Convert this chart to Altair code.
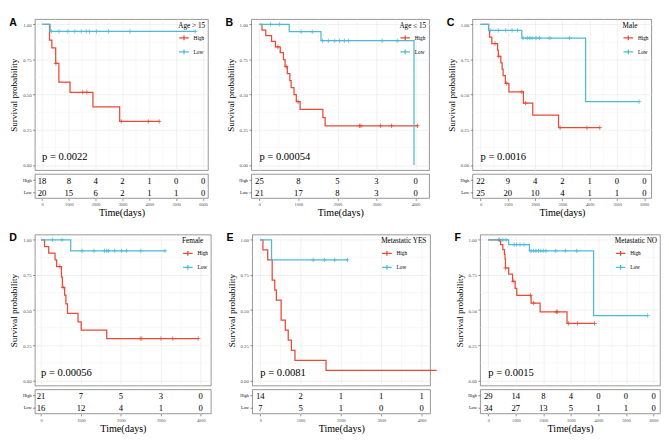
import altair as alt
import pandas as pd

SERIF = "Liberation Serif"
SANS = "Liberation Sans"
RED = "#E64B35"
BLUE = "#4DBBD5"
GROUPS = ["High", "Low"]

# ---------------- Panel A : Age > 15 ----------------
A_high_t = [0, 280, 368, 510, 629, 1044, 1898, 2894, 4365]
A_high_s = [1.0, 0.889, 0.833, 0.722, 0.590, 0.517, 0.413, 0.310, 0.310]
A_high_c = [520, 1518, 1673, 2954, 3962, 4365]
A_low_t = [0, 300, 5706]
A_low_s = [1.0, 0.95, 0.95]
A_low_c = [350, 629, 961, 1222, 1459, 1649, 1767, 2028, 2479, 3274, 5706]
A_risk_high = [18, 8, 4, 2, 1, 0, 0]
A_risk_low = [20, 15, 6, 2, 1, 1, 0]

# ---------------- Panel B : Age <= 15 ----------------
B_high_t = [0, 66, 164, 312, 411, 534, 616, 657, 715, 780, 813, 887, 945, 1043, 1626, 1684, 4049]
B_high_s = [1.0, 0.96, 0.92, 0.88, 0.84, 0.80, 0.75, 0.70, 0.65, 0.60, 0.55, 0.50, 0.45, 0.395, 0.337, 0.279, 0.279]
B_high_c = [472, 690, 990, 2563, 2600, 3105, 3384, 4049]
B_low_t = [0, 764, 1577, 3960]
B_low_s = [1.0, 0.948, 0.884, 0.0]
B_low_c = [287, 517, 1068, 1355, 1618, 1766, 1930, 2053, 2177, 2283, 3146, 3532]
B_risk_high = [25, 8, 5, 3, 0]
B_risk_low = [21, 17, 8, 3, 0]

# ---------------- Panel C : Male ----------------
C_high_t = [0, 295, 331, 413, 626, 650, 744, 791, 827, 909, 1039, 1571, 1913, 2858, 4370]
C_high_s = [1.0, 0.955, 0.909, 0.864, 0.818, 0.773, 0.727, 0.682, 0.636, 0.58, 0.52, 0.44, 0.355, 0.266, 0.266]
C_high_c = [530, 665, 960, 1512, 1650, 2917, 3897, 4370]
C_low_t = [0, 295, 1512, 3850, 5811]
C_low_s = [1.0, 0.957, 0.903, 0.451, 0.451]
C_low_c = [354, 650, 921, 1157, 1358, 1559, 1712, 1807, 1890, 2031, 2161, 2539, 3260, 5811]
C_risk_high = [22, 9, 4, 2, 1, 0, 0]
C_risk_low = [25, 20, 10, 4, 1, 1, 0]

# ---------------- Panel D : Female ----------------
D_high_t = [0, 88, 192, 351, 391, 511, 535, 591, 623, 663, 926, 1006, 1645, 3936]
D_high_s = [1.0, 0.952, 0.905, 0.857, 0.810, 0.735, 0.661, 0.606, 0.545, 0.477, 0.417, 0.357, 0.298, 0.298]
D_high_c = [471, 551, 2483, 2523, 3002, 3297, 3936]
D_low_t = [0, 743, 3106]
D_low_s = [1.0, 0.922, 0.922]
D_low_c = [287, 527, 1030, 1325, 1589, 1645, 1685, 1844, 2020, 2140, 2499, 3106]
D_risk_high = [21, 7, 5, 3, 0]
D_risk_low = [16, 12, 4, 1, 0]

# ---------------- Panel E : Metastatic YES ----------------
E_high_t = [0, 64, 183, 294, 358, 398, 517, 620, 692, 771, 859, 1630, 4374]
E_high_s = [1.0, 0.929, 0.857, 0.714, 0.643, 0.571, 0.429, 0.357, 0.286, 0.214, 0.143, 0.071, 0.071]
E_high_c = []
E_low_t = [0, 278, 2163]
E_low_s = [1.0, 0.857, 0.857]
E_low_c = [1312, 1590, 1845, 2163]
E_risk_high = [14, 2, 1, 1, 1]
E_risk_low = [7, 5, 1, 0, 0]

# ---------------- Panel F : Metastatic NO ----------------
F_high_t = [0, 447, 529, 588, 610, 624, 741, 882, 976, 1035, 1553, 1882, 2859, 3859]
F_high_s = [1.0, 0.966, 0.931, 0.897, 0.862, 0.80, 0.756, 0.705, 0.655, 0.605, 0.55, 0.488, 0.405, 0.405]
F_high_c = [400, 624, 906, 1529, 1647, 2470, 2506, 2918, 3235, 3859]
F_low_t = [0, 741, 1494, 3824, 5788]
F_low_s = [1.0, 0.966, 0.922, 0.461, 0.461]
F_low_c = [388, 529, 647, 941, 1035, 1153, 1294, 1553, 1647, 1729, 1824, 1906, 2000, 2094, 2447, 2800, 3212, 5788]
F_risk_high = [29, 14, 8, 4, 0, 0, 0]
F_risk_low = [34, 27, 13, 5, 1, 1, 0]

PANELS = [
    dict(letter="A", legend="Age > 15", p="p = 0.0022", dom=[-263, 6185], width=180, tmax=6000,
         hi=(A_high_t, A_high_s, A_high_c), lo=(A_low_t, A_low_s, A_low_c), risk=(A_risk_high, A_risk_low)),
    dict(letter="B", legend="Age \u2264 15", p="p = 0.00054", dom=[-207, 4350], width=185, tmax=4000,
         hi=(B_high_t, B_high_s, B_high_c), lo=(B_low_t, B_low_s, B_low_c), risk=(B_risk_high, B_risk_low)),
    dict(letter="C", legend="Male", p="p = 0.0016", dom=[-294, 6259], width=186, tmax=6000,
         hi=(C_high_t, C_high_s, C_high_c), lo=(C_low_t, C_low_s, C_low_c), risk=(C_risk_high, C_risk_low)),
    dict(letter="D", legend="Female", p="p = 0.00056", dom=[-153, 4254], width=183, tmax=4000,
         hi=(D_high_t, D_high_s, D_high_c), lo=(D_low_t, D_low_s, D_low_c), risk=(D_risk_high, D_risk_low)),
    dict(letter="E", legend="Metastatic YES", p="p = 0.0081", dom=[-200, 4214], width=185, tmax=4000,
         hi=(E_high_t, E_high_s, E_high_c), lo=(E_low_t, E_low_s, E_low_c), risk=(E_risk_high, E_risk_low)),
    dict(letter="F", legend="Metastatic NO", p="p = 0.0015", dom=[-293, 6236], width=187, tmax=6000,
         hi=(F_high_t, F_high_s, F_high_c), lo=(F_low_t, F_low_s, F_low_c), risk=(F_risk_high, F_risk_low)),
]

KM_H = 157
RISK_H = 25
YDOM = [-0.037, 1.037]


def step_value(ts, ss, c):
    v = ss[0]
    for t, s in zip(ts, ss):
        if t <= c:
            v = s
    return v


def make_panel(P):
    rows, cens = [], []
    for grp, (ts, ss, cs) in zip(GROUPS, [P["hi"], P["lo"]]):
        for t, s in zip(ts, ss):
            rows.append({"t": t, "s": s, "group": grp})
        for c in cs:
            cens.append({"t": c, "s": step_value(ts, ss, c), "group": grp})
    curve = pd.DataFrame(rows)
    cdf = pd.DataFrame(cens, columns=["t", "s", "group"])

    majors = list(range(0, P["tmax"] + 1, 1000))
    lo, hi = P["dom"]
    minors_x = [m + 500 for m in majors if m + 500 < hi]
    minors_y = [0.125, 0.375, 0.625, 0.875]

    xscale = alt.Scale(domain=P["dom"], nice=False, zero=False)
    yscale = alt.Scale(domain=YDOM, nice=False, zero=False)
    xaxis = alt.Axis(values=majors, labels=False, ticks=False, domain=False, title=None, grid=True)
    yaxis = alt.Axis(values=[0, 0.25, 0.5, 0.75, 1.0], format=".2f", title="Survival probability",
                     grid=True, labelFontSize=5, titleFontSize=9.5, titlePadding=4,
                     titleFontWeight="normal", titleFont=SERIF)

    def X(f):
        return alt.X(f, type="quantitative", scale=xscale, axis=xaxis)

    def Y(f):
        return alt.Y(f, type="quantitative", scale=yscale, axis=yaxis)

    color = alt.Color("group:N", scale=alt.Scale(domain=GROUPS, range=[RED, BLUE]),
                      legend=alt.Legend(title=P["legend"], orient="top-right", offset=2,
                                        symbolType="M-1,0H1M0,-0.5V0.5", symbolSize=100,
                                        symbolStrokeWidth=1.3, symbolFillColor="transparent",
                                        titleFontSize=7.5, labelFontSize=5.5, titlePadding=3,
                                        rowPadding=2.5, labelOffset=4, padding=1))

    gx = alt.Chart(pd.DataFrame({"gx": minors_x})).mark_rule(color="#f0f0f0", strokeWidth=0.5).encode(x=X("gx"))
    gy = alt.Chart(pd.DataFrame({"gy": minors_y})).mark_rule(color="#f0f0f0", strokeWidth=0.5).encode(y=Y("gy"))
    line = alt.Chart(curve).mark_line(interpolate="step-after", strokeWidth=1.3).encode(
        x=X("t"), y=Y("s"), color=color, order="t:Q")
    pts = alt.Chart(cdf).mark_point(shape="M-1,0H1M0,-1V1", filled=False, size=20, strokeWidth=0.8,
                                    opacity=1).encode(x=X("t"), y=Y("s"), color=color)
    ptxt = alt.Chart(pd.DataFrame({"t": [0], "s": [0.035], "label": [P["p"]]})).mark_text(
        font=SERIF, fontSize=11, align="left", baseline="alphabetic", color="black").encode(
        x=X("t"), y=Y("s"), text="label:N")

    km = alt.layer(gx, gy, line, pts, ptxt).properties(
        width=P["width"], height=KM_H,
        title=alt.TitleParams(text=P["letter"], anchor="start", frame="bounds", font=SANS,
                              fontSize=11, fontWeight="bold", offset=-9, color="black"))

    rdf = pd.DataFrame({"t": majors * 2, "group": ["High"] * len(majors) + ["Low"] * len(majors),
                        "n": list(P["risk"][0]) + list(P["risk"][1])})
    risk = alt.Chart(rdf).mark_text(font=SERIF, fontSize=9, baseline="middle", dy=1, color="black").encode(
        x=alt.X("t:Q", scale=xscale,
                axis=alt.Axis(values=majors, format="d", title="Time(days)", grid=True, labelFontSize=4.5,
                              titleFontSize=10.5, titlePadding=2, titleFontWeight="normal",
                              titleFont=SERIF)),
        y=alt.Y("group:N", scale=alt.Scale(domain=GROUPS, padding=0.5),
                axis=alt.Axis(title=None, labelFontSize=4.5, labelColor="black", grid=False)),
        text="n:Q",
    ).properties(width=P["width"], height=RISK_H)

    return alt.vconcat(km, risk, spacing=2).resolve_scale(color="independent")


panels = [make_panel(P) for P in PANELS]
row1 = alt.hconcat(*panels[:3], spacing=16).resolve_scale(color="independent")
row2 = alt.hconcat(*panels[3:], spacing=14).resolve_scale(color="independent")

chart = alt.vconcat(row1, row2, spacing=13).resolve_scale(color="independent").properties(
    padding=0, background="white"
).configure_view(
    stroke="#666666", strokeWidth=0.7
).configure_axis(
    labelFont=SERIF, titleFont=SERIF, labelColor="#4d4d4d", titleColor="black",
    titleFontWeight="normal", tickColor="#4d4d4d", tickWidth=0.6, tickSize=2.5,
    domain=False, gridColor="#e6e6e6", gridWidth=0.6, labelPadding=1.5
).configure_legend(
    titleFont=SERIF, labelFont=SERIF, titleColor="black", labelColor="black",
    titleFontWeight="normal"
)

chart.save("out.html", embed_options={"renderer": "svg", "actions": False})
